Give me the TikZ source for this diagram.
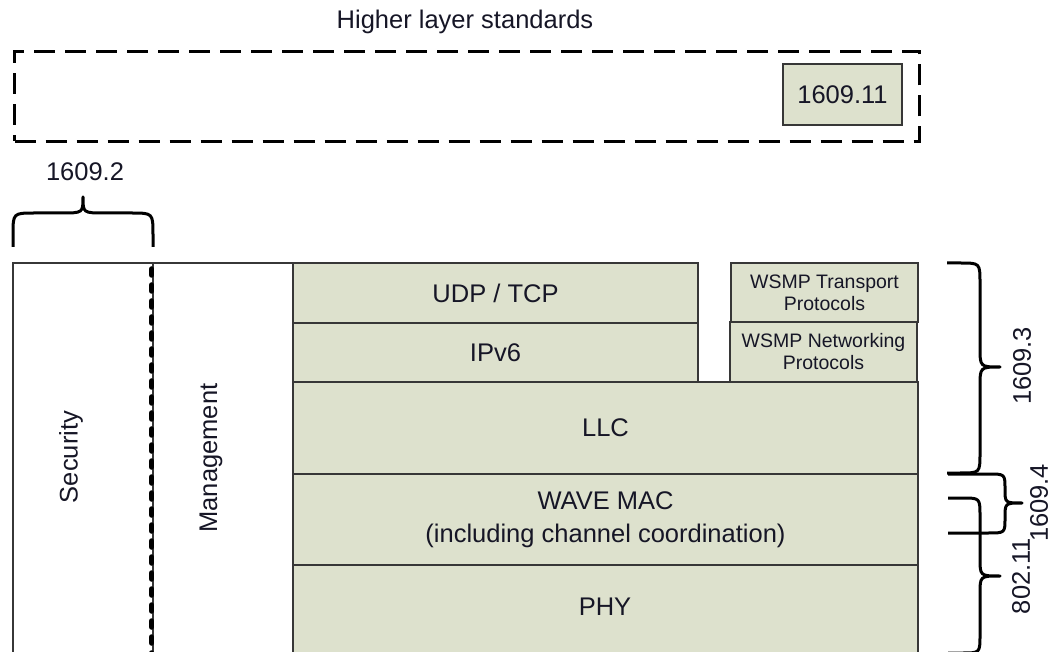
\documentclass[tikz,border=0pt]{standalone}
\usepackage{fontspec}
\setmainfont{Liberation Sans}
\definecolor{layerfill}{RGB}{221,225,205}
\definecolor{edge}{RGB}{55,55,55}
\definecolor{ink}{RGB}{22,22,38}
\newcommand{\bigtxt}{\fontsize{25.5}{33}\selectfont}
\newcommand{\smalltxt}{\fontsize{19.5}{22}\selectfont}
\begin{document}
\begin{tikzpicture}[x=1pt,y=-1pt,
  box/.style={draw=edge, line width=1.3pt, inner sep=0pt, outer sep=0pt, anchor=north west},
  layer/.style={box, fill=layerfill, text=ink, font=\bigtxt, align=center},
  lbl/.style={text=ink, font=\bigtxt, inner sep=0pt},
  brace/.style={line width=3pt, line join=round}]
\useasboundingbox (0,0) rectangle (1053,652);
\clip (0,0) rectangle (1053,652);

% higher layers
\node[lbl] (title) at (465,22) {Higher layer standards};
\node[draw=black, line width=3pt, dash pattern=on 21pt off 10pt, inner sep=0pt,
      minimum width=905pt, minimum height=90pt, anchor=north west] (higher) at (13,50) {};
\node[layer, minimum width=119pt, minimum height=61pt] (wsa) at (783,64) {1609.11};

% side columns
\node[box, fill=white, minimum width=140pt, minimum height=400pt] (sec) at (13,263) {};
\node[lbl, rotate=90] (sectxt) at (71,457) {Security};
\node[box, fill=white, minimum width=140pt, minimum height=400pt] (mgmt) at (153,263) {};
\node[lbl, rotate=90] (mgmttxt) at (211,458) {Management};
\draw[line width=5.5pt, line cap=round, dash pattern=on 6pt off 10pt, dash phase=-3pt]
  ([xshift=-1.5pt,yshift=-3pt]sec.north east) -- ([xshift=-1.5pt]sec.south east);

% protocol stack
\node[layer, minimum width=405pt, minimum height=60pt] (udp) at (293,263) {UDP / TCP};
\node[layer, minimum width=405pt, minimum height=59pt] (ipv6) at (293,323) {IPv6};
\node[layer, minimum width=625pt, minimum height=92pt] (llc) at (293,382) {LLC};
\node[layer, minimum width=625pt, minimum height=91pt] (mac) at (293,474)
  {WAVE MAC\\(including channel coordination)};
\node[layer, minimum width=625pt, minimum height=100pt] (phy) at (293,565) {};
\node[lbl] (phytxt) at (605,607) {PHY};
\node[layer, font=\smalltxt, minimum width=187pt, minimum height=59pt] (wsmpt) at (731,263)
  {WSMP Transport\\Protocols};
\node[layer, font=\smalltxt, minimum width=187pt, minimum height=60pt] (wsmpn) at (730,322)
  {WSMP Networking\\Protocols};

% standard braces
\node[lbl] (std2) at (85,172) {1609.2};
\draw[brace] (13,247) -- (13,235) .. controls (13,213) .. (35,213) -- (61,213)
  .. controls (83,213) .. (83,197) .. controls (83,213) .. (105,213) -- (131,213)
  .. controls (153,213) .. (153,235) -- (153,247);

\node[lbl, rotate=90] (std3) at (1022,366) {1609.3};
\draw[brace] (947,263) -- (960,263) .. controls (980,263) .. (980,283) -- (980,347)
  .. controls (980,367) .. (1000,367) .. controls (980,367) .. (980,387) -- (980,453)
  .. controls (980,473) .. (960,473) -- (947,473);

\node[lbl, rotate=90] (std4) at (1039,503) {1609.4};
\draw[brace] (948,474) -- (988,474) .. controls (1005,474) .. (1005,489)
  .. controls (1005,503) .. (1022,503) .. controls (1005,503) .. (1005,518)
  .. controls (1005,533) .. (988,533) -- (948,533);

\node[lbl, rotate=90] (std80211) at (1021,576) {802.11};
\draw[brace] (948,498) -- (962,498) .. controls (980,498) .. (980,516) -- (980,558)
  .. controls (980,576) .. (1000,576) .. controls (980,576) .. (980,594) -- (980,635)
  .. controls (980,653) .. (962,653) -- (948,653);
\end{tikzpicture}
\end{document}
